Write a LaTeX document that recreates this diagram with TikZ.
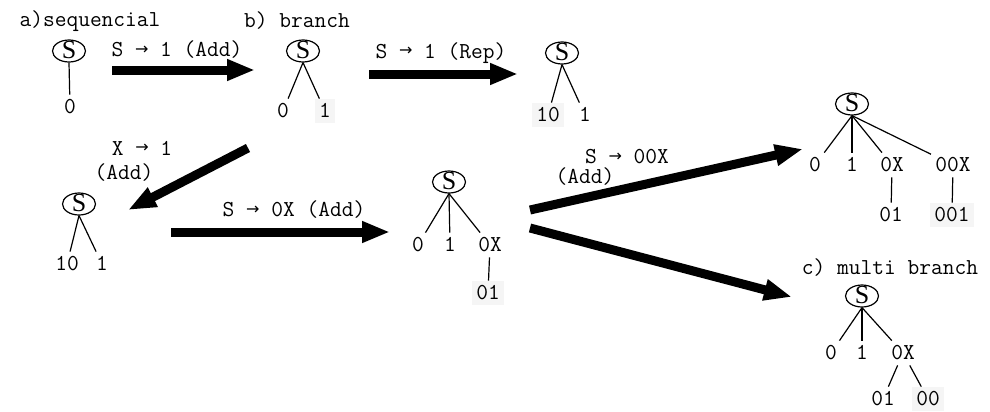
\documentclass[tikz,border=0pt]{standalone}
\usepackage{fontspec}
\newfontfamily\serifS{Liberation Serif}
\newfontfamily\symfont{DejaVu Sans}
\usetikzlibrary{shapes.geometric,arrows.meta}
\newcommand\ra{\raisebox{0.25ex}{\symfont\fontsize{8}{8}\selectfont →}}
\tikzset{
  root/.style={ellipse, draw, line width=0.6pt, minimum width=16.5pt, minimum height=11pt,
    inner sep=0pt, text height=7pt, text depth=0pt, font=\serifS\fontsize{13}{13}\selectfont},
  leaf/.style={inner sep=2pt, text height=7pt, text depth=1pt, font=\ttfamily\fontsize{11.4}{12}\selectfont},
  hl/.style={leaf, fill=black!4},
  lbl/.style={inner sep=1pt, font=\ttfamily\fontsize{11.4}{12}\selectfont},
  edge/.style={line width=0.6pt},
  bigarrow/.style={line width=4.5pt, -{Triangle[length=14pt,width=10pt]}}
}
\begin{document}
\begin{tikzpicture}[x=0.5pt, y=-0.5pt]
  \useasboundingbox (0,0) rectangle (990,412);
  % titles
  \node[lbl] (ta) at (90,21) {a)sequencial};
  \node[lbl] (tb) at (297,21) {b) branch};
  \node[lbl] (tc) at (890,268) {c) multi branch};
  % a) one leaf
  \node[root] (aS) at (69,51) {S};
  \node[leaf] (a0) at (70,107) {0};
  \draw[edge] (aS.south) -- (a0);
  % b) two leaves
  \node[root] (bS) at (303,51) {S};
  \node[leaf] (b0) at (283,111) {0};
  \node[hl] (b1) at (325,111) {1};
  \foreach \n in {b0,b1} \draw[edge] (bS.south) -- (\n);
  % after Rep
  \node[root] (cS) at (562,53) {S};
  \node[hl] (c10) at (548,115) {10};
  \node[leaf] (c1) at (585,115) {1};
  \foreach \n in {c10,c1} \draw[edge] (cS.south) -- (\n);
  % after X -> 1
  \node[root] (dS) at (79,204) {S};
  \node[leaf] (d10) at (67,264) {10};
  \node[leaf] (d1) at (102,264) {1};
  \foreach \n in {d10,d1} \draw[edge] (dS.south) -- (\n);
  % after S -> 0X
  \node[root] (eS) at (449,182) {S};
  \node[leaf] (e0) at (418,245) {0};
  \node[leaf] (e1) at (450,245) {1};
  \node[leaf] (e0X) at (490,245) {0X};
  \node[hl] (e01) at (488,293) {01};
  \foreach \n in {e0,e1,e0X} \draw[edge] (eS.south) -- (\n);
  \draw[edge] (e0X) -- (e01);
  % after S -> 00X
  \node[root] (fS) at (852,104) {S};
  \node[leaf] (f0) at (815,165) {0};
  \node[leaf] (f1) at (852,165) {1};
  \node[leaf] (f0X) at (892,165) {0X};
  \node[leaf] (f00X) at (953,165) {00X};
  \node[leaf] (f01) at (891,215) {01};
  \node[hl] (f001) at (952,215) {001};
  \foreach \n in {f0,f1,f0X,f00X} \draw[edge] (fS.south) -- (\n);
  \draw[edge] (f0X) -- (f01);
  \draw[edge] (f00X) -- (f001);
  % c) multi branch
  \node[root] (gS) at (862,296) {S};
  \node[leaf] (g0) at (831,353) {0};
  \node[leaf] (g1) at (862,353) {1};
  \node[leaf] (g0X) at (903,353) {0X};
  \node[leaf] (g01) at (883,399) {01};
  \node[hl] (g00) at (928,399) {00};
  \foreach \n in {g0,g1,g0X} \draw[edge] (gS.south) -- (\n);
  \foreach \n in {g01,g00} \draw[edge] (g0X) -- (\n);
  % big arrows and their rules
  \coordinate (p1) at (112,70);  \coordinate (q1) at (255,70);
  \coordinate (p2) at (369,74);  \coordinate (q2) at (518,74);
  \coordinate (p3) at (248,148); \coordinate (q3) at (128,210);
  \coordinate (p4) at (171,232); \coordinate (q4) at (390,232);
  \coordinate (p5) at (530,210); \coordinate (q5) at (803,149);
  \coordinate (p6) at (530,228); \coordinate (q6) at (792,297);
  \foreach \i in {1,...,6} \draw[bigarrow] (p\i) -- (q\i);
  \node[lbl] (r1) at (177,50) {S \ra{} 1 (Add)};
  \node[lbl] (r2) at (441,53) {S \ra{} 1 (Rep)};
  \node[lbl] (r3) at (142,148) {X \ra{} 1};
  \node[lbl] (r3b) at (124,173) {(Add)};
  \node[lbl] (r4) at (294,210) {S \ra{} 0X (Add)};
  \node[lbl] (r5) at (627,157) {S \ra{} 00X};
  \node[lbl] (r5b) at (585,177) {(Add)};
\end{tikzpicture}
\end{document}
